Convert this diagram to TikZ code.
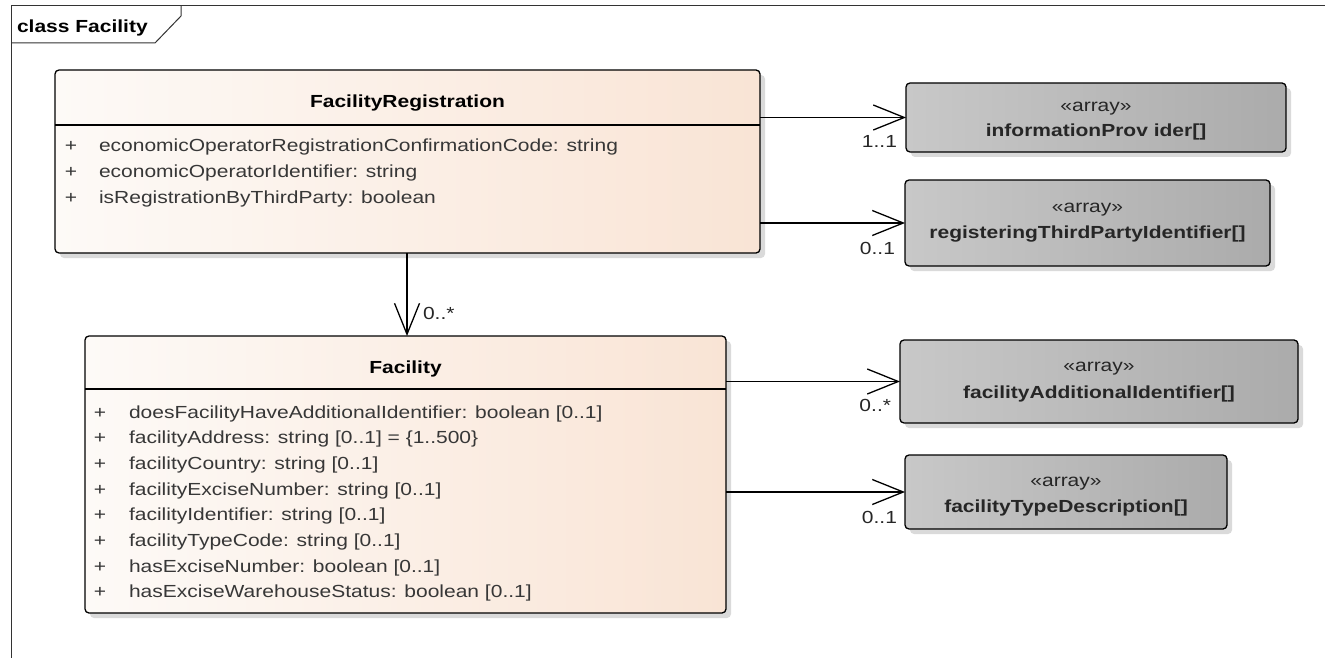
\documentclass[tikz,border=0pt]{standalone}
\usepackage{fontspec}
\setmainfont{Liberation Sans}[FakeStretch=1.2]
\usetikzlibrary{arrows.meta,shadows}

\definecolor{peachL}{RGB}{253,250,247}
\definecolor{peachR}{RGB}{249,228,213}
\definecolor{grayL}{RGB}{200,200,200}
\definecolor{grayR}{RGB}{171,171,171}
\definecolor{shadowc}{RGB}{218,218,218}
\definecolor{attrc}{RGB}{55,55,55}

\begin{document}
\begin{tikzpicture}[x=1pt,y=-1pt,
  every node/.style={inner sep=0pt, outer sep=0pt},
  txt/.style={font=\fontsize{17.5}{21}\selectfont},
  classbox/.style={draw=black, line width=1.3pt, rounded corners=4pt,
    left color=peachL, right color=peachR, anchor=north west,
    drop shadow={shadow xshift=5pt, shadow yshift=-5pt, fill=shadowc, opacity=1}},
  arraybox/.style={draw=black, line width=1.3pt, rounded corners=4pt,
    left color=grayL, right color=grayR, anchor=north west,
    drop shadow={shadow xshift=5pt, shadow yshift=-5pt, fill=shadowc, opacity=1}},
  sep/.style={draw=black, line width=1.3pt},
  ctitle/.style={txt, font=\fontsize{17.5}{21}\selectfont\bfseries, anchor=base},
  attr/.style={txt, text=attrc, anchor=base west},
  plus/.style={txt, text=attrc, anchor=base},
  stereo/.style={txt, text=black!85, anchor=base},
  aname/.style={txt, font=\fontsize{17.5}{21}\selectfont\bfseries, text=black!85, anchor=base},
  mult/.style={txt, text=black!85, anchor=base east},
  assoc/.style={draw=black, line width=1.3pt, -{Straight Barb[length=31pt, width=25pt, line width=1.3pt]}},
  frameline/.style={draw=black!80, line width=1pt}
]
\useasboundingbox (0,0) rectangle (1325,658);

% frame
\draw[frameline] (11,658) -- (11,6) -- (1325,6);
\draw[frameline] (11,43) -- (155,43) -- (181,16) -- (181,6);
\node[txt, font=\fontsize{17.5}{21}\selectfont\bfseries, anchor=base west] (frametitle) at (17,33) {class Facility};

% FacilityRegistration
\node[classbox, minimum width=705pt, minimum height=183pt] (fr) at (55,70) {};
\draw[sep] (fr.west |- 0,125) -- (fr.east |- 0,125);
\node[ctitle] (frt) at (407.5,108) {FacilityRegistration};
\node[plus] (frp1) at (71,152) {+};
\node[attr] (fra1) at (99,152) {economicOperatorRegistrationConfirmationCode: string};
\node[plus] (frp2) at (71,177.5) {+};
\node[attr] (fra2) at (99,177.5) {economicOperatorIdentifier: string};
\node[plus] (frp3) at (71,203) {+};
\node[attr] (fra3) at (99,203) {isRegistrationByThirdParty: boolean};

% Facility
\node[classbox, minimum width=641pt, minimum height=277pt] (fac) at (85,336) {};
\draw[sep] (fac.west |- 0,389) -- (fac.east |- 0,389);
\node[ctitle] (fact) at (405.5,373) {Facility};
\node[plus] (fp1) at (100,418) {+};
\node[attr] (fa1) at (129,418) {doesFacilityHaveAdditionalIdentifier: boolean [0..1]};
\node[plus] (fp2) at (100,443.7) {+};
\node[attr] (fa2) at (129,443.7) {facilityAddress: string [0..1] = \{1..500\}};
\node[plus] (fp3) at (100,469.4) {+};
\node[attr] (fa3) at (129,469.4) {facilityCountry: string [0..1]};
\node[plus] (fp4) at (100,495.1) {+};
\node[attr] (fa4) at (129,495.1) {facilityExciseNumber: string [0..1]};
\node[plus] (fp5) at (100,520.8) {+};
\node[attr] (fa5) at (129,520.8) {facilityIdentifier: string [0..1]};
\node[plus] (fp6) at (100,546.5) {+};
\node[attr] (fa6) at (129,546.5) {facilityTypeCode: string [0..1]};
\node[plus] (fp7) at (100,572.2) {+};
\node[attr] (fa7) at (129,572.2) {hasExciseNumber: boolean [0..1]};
\node[plus] (fp8) at (100,597.9) {+};
\node[attr] (fa8) at (129,597.9) {hasExciseWarehouseStatus: boolean [0..1]};

% array boxes
\node[arraybox, minimum width=380pt, minimum height=69pt] (ip) at (906,83) {};
\node[stereo] (ips) at (1096,112) {«array»};
\node[aname] (ipn) at (1096,137) {informationProv ider[]};

\node[arraybox, minimum width=365pt, minimum height=86pt] (rtp) at (905,180) {};
\node[stereo] (rtps) at (1087.5,212) {«array»};
\node[aname] (rtpn) at (1087.5,238) {registeringThirdPartyIdentifier[]};

\node[arraybox, minimum width=398pt, minimum height=83pt] (fai) at (900,340) {};
\node[stereo] (fais) at (1099,371) {«array»};
\node[aname] (fain) at (1099,398) {facilityAdditionalIdentifier[]};

\node[arraybox, minimum width=322pt, minimum height=74pt] (ftd) at (905,455) {};
\node[stereo] (ftds) at (1066,486) {«array»};
\node[aname] (ftdn) at (1066,512) {facilityTypeDescription[]};

% associations
\draw[assoc] (fr.south -| 407,0) -- (fac.north -| 407,0);
\node[txt, text=black!85, anchor=base west] (m0) at (423,319) {0..*};

\draw[assoc] (ip.west -| fr.east) -- (ip.west);
\node[mult] (m1) at (897,148) {1..1};

\draw[assoc] (rtp.west -| fr.east) -- (rtp.west);
\node[mult] (m2) at (895,254) {0..1};

\draw[assoc] (fai.west -| fac.east) -- (fai.west);
\node[mult] (m3) at (891,411) {0..*};

\draw[assoc] (ftd.west -| fac.east) -- (ftd.west);
\node[mult] (m4) at (897,523) {0..1};
\end{tikzpicture}
\end{document}
